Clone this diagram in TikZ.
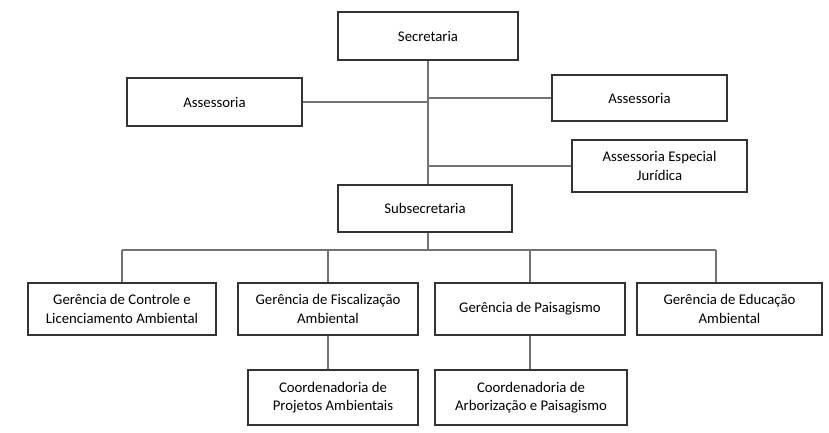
\documentclass[tikz,border=0pt]{standalone}
\usepackage{fontspec}
\setmainfont{Carlito}
\usetikzlibrary{positioning}
\tikzset{bx/.append style={draw=black!80,thick,align=center,inner sep=2pt,font=\fontsize{10.5}{13}\selectfont}}
\tikzset{ln/.append style={draw=black!55,thick}}

\begin{document}
\begin{tikzpicture}[x=0.025cm,y=-0.025cm]
                \useasboundingbox (0,0) rectangle (829,433);
                % boxes
                \node[bx,minimum width=4.5cm,minimum height=1.2cm] (sec) at (428,36) {Secretaria};
                \node[bx,minimum width=4.375cm,minimum height=1.2cm] (ass1) at (214.5,102) {Assessoria};
                \node[bx,minimum width=4.375cm,minimum height=1.15cm] (ass2) at (639.5,98) {Assessoria};
                \node[bx,minimum width=4.375cm,minimum height=1.3cm] (jur) at (659.5,166) {Assessoria Especial\\Jurídica};
                \node[bx,minimum width=4.35cm,minimum height=1.175cm] (sub) at (425,208.5) {Subsecretaria};
                \node[bx,minimum width=4.7cm,minimum height=1.3cm] (g1) at (122,309) {Gerência de Controle e\\Licenciamento Ambiental};
                \node[bx,minimum width=4.5cm,minimum height=1.3cm] (g2) at (328,309) {Gerência de Fiscalização\\Ambiental};
                \node[bx,minimum width=4.75cm,minimum height=1.3cm] (g3) at (530,309) {Gerência de Paisagismo};
                \node[bx,minimum width=4.625cm,minimum height=1.3cm] (g4) at (729.5,309) {Gerência de Educação\\Ambiental};
                \node[bx,minimum width=4.25cm,minimum height=1.375cm] (c1) at (333,397.5) {Coordenadoria de\\Projetos Ambientais};
                \node[bx,minimum width=4.8cm,minimum height=1.375cm] (c2) at (531,397.5) {Coordenadoria de\\Arborização e Paisagismo};
                % connectors
                \coordinate (t) at (428,250);
                \coordinate (l) at (122,250);
                \coordinate (r) at (716,250);
                \draw[ln] (sec.south -| t) -- (sub.north -| t);
                \draw[ln] (sub.south -| t) -- (t);
                \draw[ln] (ass1.east) -- (ass1.east -| t);
                \draw[ln] (ass2.west) -- (ass2.west -| t);
                \draw[ln] (jur.west) -- (jur.west -| t);
                \draw[ln] (l) -- (r);
                \draw[ln] (l) -- (g1.north);
                \draw[ln] (g2.north |- t) -- (g2.north);
                \draw[ln] (g3.north |- t) -- (g3.north);
                \draw[ln] (r) -- (r |- g4.north);
                \draw[ln] (g2.south) -- (g2.south |- c1.north);
                \draw[ln] (g3.south) -- (g3.south |- c2.north);
\end{tikzpicture}
\end{document}
